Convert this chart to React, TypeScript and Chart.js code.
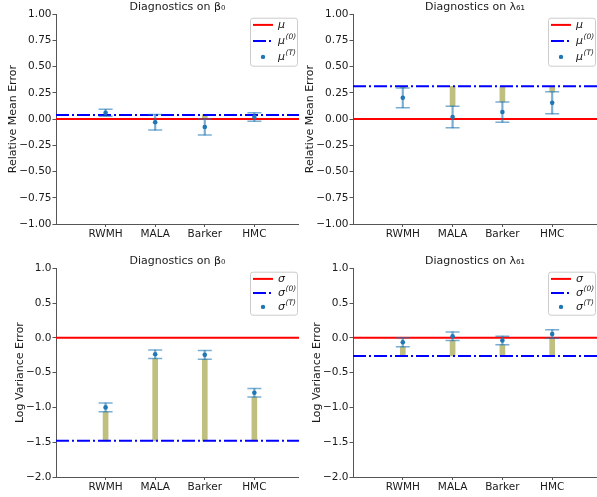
import React, { useEffect, useRef } from 'react';
import { Chart, registerables } from 'chart.js';

Chart.register(...registerables);

// ---------------- data ----------------
const CATEGORIES = ['RWMH', 'MALA', 'Barker', 'HMC'];
const X_MIN = -1;
const X_MAX = 3.9;

const MEAN_TICKS = [-1, -0.75, -0.5, -0.25, 0, 0.25, 0.5, 0.75, 1];
const LOGVAR_TICKS = [-2, -1.5, -1, -0.5, 0, 0.5, 1];

const TRUE_VALUE = 0;

// Relative mean error, beta_0
const BETA0_MEAN = [0.06, -0.03, -0.075, 0.02];
const BETA0_MEAN_ERR = [0.033, 0.075, 0.077, 0.04];
const BETA0_MEAN_INIT = 0.04;

// Relative mean error, lambda_61
const LAMBDA61_MEAN = [0.203, 0.02, 0.067, 0.155];
const LAMBDA61_MEAN_ERR = [0.094, 0.103, 0.096, 0.105];
const LAMBDA61_MEAN_INIT = 0.313;

// Log variance error, beta_0
const BETA0_LOGVAR = [-1.0, -0.237, -0.245, -0.79];
const BETA0_LOGVAR_ERR = [0.062, 0.06, 0.063, 0.06];
const BETA0_LOGVAR_INIT = -1.48;

// Log variance error, lambda_61
const LAMBDA61_LOGVAR = [-0.065, 0.022, -0.038, 0.055];
const LAMBDA61_LOGVAR_ERR = [0.065, 0.062, 0.062, 0.06];
const LAMBDA61_LOGVAR_INIT = -0.26;

// ---------------- styling ----------------
const FONT = 'DejaVu Sans';
const AXIS_COLOR = '#555555';
const TEXT_COLOR = '#1a1a1a';
const RED = '#ff0000';
const BLUE = '#0000ff';
const OLIVE = 'rgba(128,128,0,0.5)';
const ERR_COLOR = 'rgba(31,119,180,0.6)';
const POINT_COLOR = '#1f77b4';

type PanelDef = {
  title: string;
  yLabel: string;
  sym: string;
  values: number[];
  errs: number[];
  init: number;
  ticks: number[];
  decimals: number;
  rowGap: number;
  boxH: number;
  padTop: number;
  xAxisH: number;
  yTitlePad: number;
};

const fmt = (v: number, d: number) => {
  const s = Math.abs(v).toFixed(d);
  return v < 0 ? '\u2212' + s : s;
};

const legendPlugin = {
  id: 'mplLegend',
  afterDatasetsDraw(chart: any, _args: any, opts: any) {
    const { ctx, chartArea } = chart;
    const w = 47;
    const h = opts.boxH;
    const x0 = chartArea.right - 1.5 - w;
    const y0 = chartArea.top + 4;
    ctx.save();
    ctx.beginPath();
    const r = 2.5;
    ctx.moveTo(x0 + r, y0);
    ctx.lineTo(x0 + w - r, y0);
    ctx.quadraticCurveTo(x0 + w, y0, x0 + w, y0 + r);
    ctx.lineTo(x0 + w, y0 + h - r);
    ctx.quadraticCurveTo(x0 + w, y0 + h, x0 + w - r, y0 + h);
    ctx.lineTo(x0 + r, y0 + h);
    ctx.quadraticCurveTo(x0, y0 + h, x0, y0 + h - r);
    ctx.lineTo(x0, y0 + r);
    ctx.quadraticCurveTo(x0, y0, x0 + r, y0);
    ctx.closePath();
    ctx.fillStyle = 'rgba(255,255,255,0.8)';
    ctx.fill();
    ctx.strokeStyle = '#cccccc';
    ctx.lineWidth = 1;
    ctx.stroke();

    const rows = [y0 + 6.7, y0 + 6.7 + opts.rowGap, y0 + 6.7 + 2 * opts.rowGap];
    const hx0 = x0 + 2.5;
    const hx1 = x0 + 22.5;
    ctx.strokeStyle = RED;
    ctx.lineWidth = 2;
    ctx.beginPath();
    ctx.moveTo(hx0, rows[0]);
    ctx.lineTo(hx1, rows[0]);
    ctx.stroke();
    ctx.strokeStyle = BLUE;
    ctx.setLineDash([13, 3, 2, 3]);
    ctx.beginPath();
    ctx.moveTo(hx0, rows[1]);
    ctx.lineTo(hx1, rows[1]);
    ctx.stroke();
    ctx.setLineDash([]);
    ctx.fillStyle = POINT_COLOR;
    ctx.beginPath();
    ctx.arc((hx0 + hx1) / 2, rows[2], 2.2, 0, Math.PI * 2);
    ctx.fill();

    const tx = x0 + 27.5;
    const sups = ['', '(0)', '(T)'];
    ctx.fillStyle = TEXT_COLOR;
    ctx.textBaseline = 'middle';
    ctx.textAlign = 'left';
    for (let i = 0; i < 3; i++) {
      ctx.font = `italic 11px "${FONT}"`;
      ctx.fillText(opts.sym, tx, rows[i]);
      const sw = ctx.measureText(opts.sym).width;
      if (sups[i]) {
        ctx.font = `italic 7.5px "${FONT}"`;
        ctx.fillText(sups[i], tx + sw + 0.5, rows[i] - 4);
      }
    }
    ctx.restore();
  },
};

function buildConfig(p: PanelDef): any {
  const lo = p.values.map((v, i) => v - p.errs[i]);
  const hi = p.values.map((v, i) => v + p.errs[i]);
  const gaps: any[] = [];
  p.values.forEach((_, i) => {
    if (p.init > hi[i]) gaps.push({ x: i, y: [hi[i], p.init] });
    else if (p.init < lo[i]) gaps.push({ x: i, y: [p.init, lo[i]] });
  });
  const yMin = p.ticks[0];
  const yMax = p.ticks[p.ticks.length - 1];

  return {
    type: 'scatter',
    data: {
      datasets: [
        {
          type: 'line',
          label: p.sym,
          data: [
            { x: X_MIN, y: TRUE_VALUE },
            { x: X_MAX, y: TRUE_VALUE },
          ],
          borderColor: RED,
          borderWidth: 2,
          pointRadius: 0,
          pointHoverRadius: 0,
          fill: false,
          order: 5,
        },
        {
          type: 'line',
          label: p.sym + '(0)',
          data: [
            { x: X_MIN, y: p.init },
            { x: X_MAX, y: p.init },
          ],
          borderColor: BLUE,
          borderWidth: 2,
          borderDash: [13, 3, 2, 3],
          pointRadius: 0,
          pointHoverRadius: 0,
          fill: false,
          order: 4,
        },
        {
          type: 'bar',
          label: 'gap',
          data: gaps,
          backgroundColor: OLIVE,
          borderWidth: 0,
          barThickness: 5,
          grouped: false,
          order: 6,
        },
        {
          type: 'bar',
          label: 'error',
          data: p.values.map((_, i) => ({ x: i, y: [lo[i], hi[i]] })),
          backgroundColor: ERR_COLOR,
          borderWidth: 0,
          barThickness: 1.5,
          grouped: false,
          order: 3,
        },
        {
          type: 'scatter',
          label: 'caps',
          data: [
            ...lo.map((y, i) => ({ x: i, y })),
            ...hi.map((y, i) => ({ x: i, y })),
          ],
          pointStyle: 'line',
          pointRadius: 7,
          pointHoverRadius: 7,
          borderColor: ERR_COLOR,
          borderWidth: 1.5,
          order: 2,
        },
        {
          type: 'scatter',
          label: p.sym + '(T)',
          data: p.values.map((y, i) => ({ x: i, y })),
          pointStyle: 'circle',
          pointRadius: 2.3,
          pointHoverRadius: 2.3,
          backgroundColor: POINT_COLOR,
          borderWidth: 0,
          order: 1,
        },
      ],
    },
    options: {
      responsive: false,
      animation: false,
      devicePixelRatio: 1,
      events: [],
      layout: { autoPadding: false, padding: { top: p.padTop, left: 0, right: 0, bottom: 0 } },
      plugins: {
        legend: { display: false },
        tooltip: { enabled: false },
        title: {
          display: true,
          text: p.title,
          fullSize: false,
          color: TEXT_COLOR,
          font: { family: FONT, size: 11, weight: 'normal', lineHeight: 1.2 },
          padding: { top: 0.5, bottom: 0.5 },
        },
        mplLegend: { sym: p.sym, rowGap: p.rowGap, boxH: p.boxH },
      },
      scales: {
        x: {
          type: 'linear',
          min: X_MIN,
          max: X_MAX,
          offset: false,
          grid: {
            offset: false,
            drawOnChartArea: false,
            drawTicks: true,
            tickLength: 3,
            color: AXIS_COLOR,
          },
          border: { display: true, color: AXIS_COLOR, width: 1 },
          afterBuildTicks: (s: any) => {
            s.ticks = CATEGORIES.map((_, i) => ({ value: i }));
          },
          afterFit: (s: any) => {
            s.height = p.xAxisH;
          },
          ticks: {
            autoSkip: false,
            maxRotation: 0,
            padding: 1,
            color: TEXT_COLOR,
            font: { family: FONT, size: 10.5 },
            callback: (v: number) => CATEGORIES[v] ?? '',
          },
        },
        y: {
          type: 'linear',
          min: yMin,
          max: yMax,
          grid: {
            drawOnChartArea: false,
            drawTicks: true,
            tickLength: 3.5,
            color: AXIS_COLOR,
          },
          border: { display: true, color: AXIS_COLOR, width: 1 },
          afterBuildTicks: (s: any) => {
            s.ticks = p.ticks.map((v) => ({ value: v }));
          },
          afterFit: (s: any) => {
            s.width = 56;
          },
          ticks: {
            padding: 1,
            color: TEXT_COLOR,
            font: { family: FONT, size: 10.5 },
            callback: (v: number) => fmt(v, p.decimals),
          },
          title: {
            display: true,
            text: p.yLabel,
            color: TEXT_COLOR,
            font: { family: FONT, size: 11, lineHeight: 1.2 },
            padding: { top: p.yTitlePad, bottom: 0 },
          },
        },
      },
    },
    plugins: [legendPlugin],
  };
}

const PANELS: { def: PanelDef; left: number; top: number; width: number; height: number }[] = [
  {
    def: {
      title: 'Diagnostics on β₀',
      yLabel: 'Relative Mean Error',
      sym: 'μ',
      values: BETA0_MEAN,
      errs: BETA0_MEAN_ERR,
      init: BETA0_MEAN_INIT,
      ticks: MEAN_TICKS,
      decimals: 2,
      rowGap: 16,
      boxH: 48,
      padTop: 0,
      xAxisH: 21,
      yTitlePad: 6.7,
    },
    left: 0,
    top: 0,
    width: 299,
    height: 245,
  },
  {
    def: {
      title: 'Diagnostics on λ₆₁',
      yLabel: 'Relative Mean Error',
      sym: 'μ',
      values: LAMBDA61_MEAN,
      errs: LAMBDA61_MEAN_ERR,
      init: LAMBDA61_MEAN_INIT,
      ticks: MEAN_TICKS,
      decimals: 2,
      rowGap: 16,
      boxH: 48,
      padTop: 0,
      xAxisH: 21,
      yTitlePad: 6.7,
    },
    left: 297,
    top: 0,
    width: 300,
    height: 245,
  },
  {
    def: {
      title: 'Diagnostics on β₀',
      yLabel: 'Log Variance Error',
      sym: 'σ',
      values: BETA0_LOGVAR,
      errs: BETA0_LOGVAR_ERR,
      init: BETA0_LOGVAR_INIT,
      ticks: LOGVAR_TICKS,
      decimals: 1,
      rowGap: 14,
      boxH: 43,
      padTop: 9,
      xAxisH: 20,
      yTitlePad: 13.4,
    },
    left: 0,
    top: 245,
    width: 299,
    height: 252,
  },
  {
    def: {
      title: 'Diagnostics on λ₆₁',
      yLabel: 'Log Variance Error',
      sym: 'σ',
      values: LAMBDA61_LOGVAR,
      errs: LAMBDA61_LOGVAR_ERR,
      init: LAMBDA61_LOGVAR_INIT,
      ticks: LOGVAR_TICKS,
      decimals: 1,
      rowGap: 14,
      boxH: 43,
      padTop: 9,
      xAxisH: 20,
      yTitlePad: 13.4,
    },
    left: 297,
    top: 245,
    width: 300,
    height: 252,
  },
];

function PanelChart(props: { def: PanelDef; left: number; top: number; width: number; height: number }) {
  const ref = useRef<HTMLCanvasElement>(null);
  useEffect(() => {
    if (!ref.current) return;
    const chart = new Chart(ref.current, buildConfig(props.def));
    return () => chart.destroy();
  }, []);
  return (
    <canvas
      ref={ref}
      width={props.width}
      height={props.height}
      style={{
        position: 'absolute',
        left: props.left,
        top: props.top,
        width: props.width,
        height: props.height,
      }}
    />
  );
}

export default function App() {
  return (
    <div
      style={{
        position: 'fixed',
        left: 0,
        top: 0,
        width: 597,
        height: 497,
        background: '#ffffff',
        overflow: 'hidden',
      }}
    >
      {PANELS.map((p, i) => (
        <PanelChart key={i} def={p.def} left={p.left} top={p.top} width={p.width} height={p.height} />
      ))}
    </div>
  );
}
